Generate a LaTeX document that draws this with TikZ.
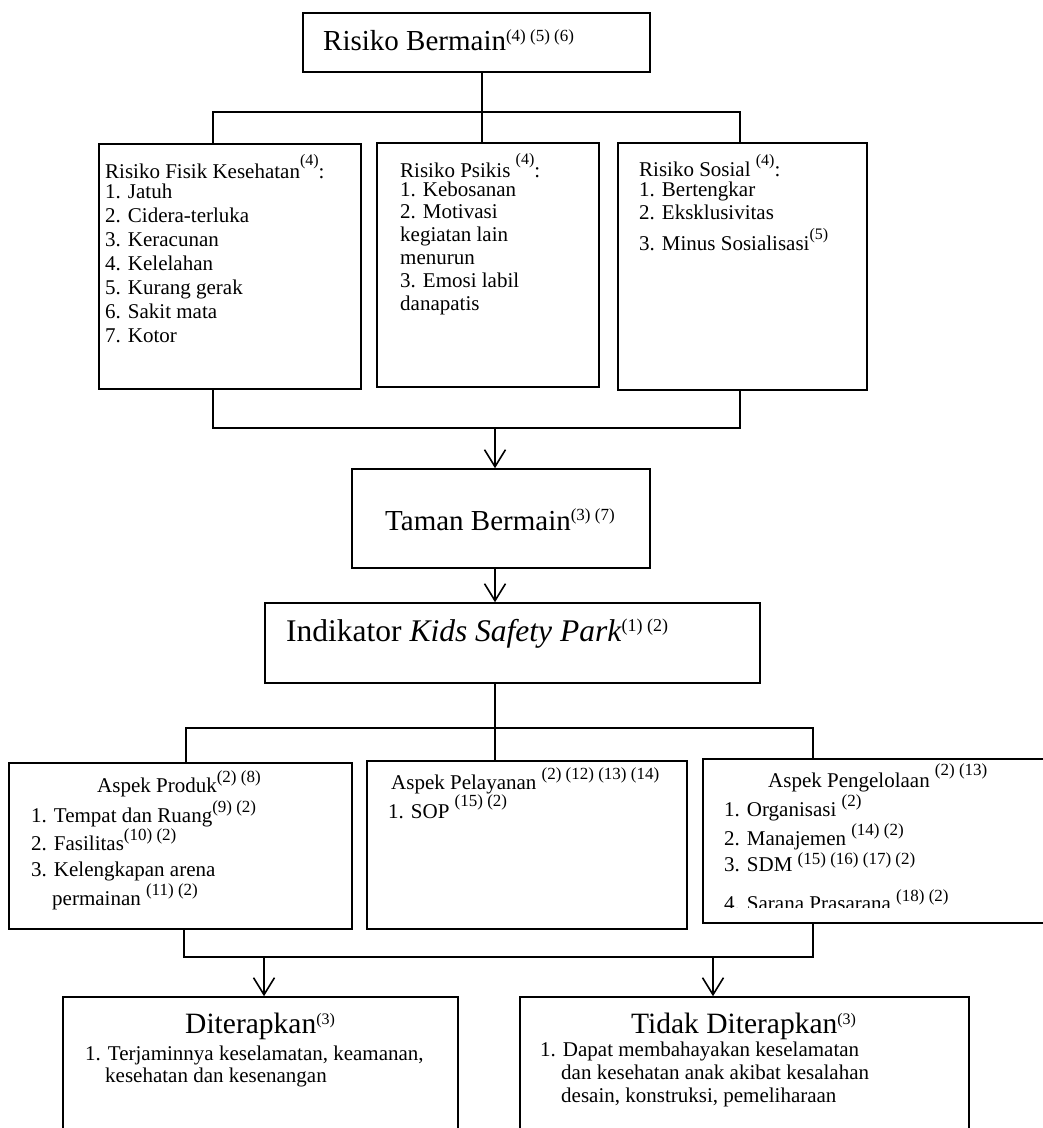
\documentclass[tikz,border=0pt]{standalone}
\usepackage{fontspec}
\setmainfont{Liberation Serif}
\usetikzlibrary{arrows.meta}
\newcommand{\supr}[3]{\raisebox{#1pt}{\fontsize{#2pt}{#2pt}\selectfont #3}}
\newcommand{\fs}[1]{\fontsize{#1pt}{#1pt}\selectfont}
\begin{document}
\begin{tikzpicture}[x=1pt,y=-1pt,
  box/.style={draw, line width=1.6pt, inner sep=0pt},
  conn/.style={line width=1.6pt},
  arr/.style={line width=1.6pt, -{Straight Barb[length=17pt,width=21pt]}},
  lbl/.style={inner sep=0pt, anchor=base west}]
\clip (0,0) rectangle (1043,1128);

% boxes
\node[box, minimum width=347pt, minimum height=59pt] (rb) at (476.5,42.5) {};
\node[box, minimum width=262pt, minimum height=245pt] (fisik) at (230,266.5) {};
\node[box, minimum width=222pt, minimum height=244pt] (psikis) at (488,265) {};
\node[box, minimum width=249pt, minimum height=247pt] (sosial) at (742.5,266.5) {};
\node[box, minimum width=298pt, minimum height=99pt] (taman) at (501,518.5) {};
\node[box, minimum width=495pt, minimum height=80pt] (ind) at (512.5,643) {};
\node[box, minimum width=343pt, minimum height=166pt] (produk) at (180.5,846) {};
\node[box, minimum width=320pt, minimum height=168pt] (pelayanan) at (527,845) {};
\node[box, minimum width=343pt, minimum height=164pt] (kelola) at (874.5,841) {};
\node[box, minimum width=395pt, minimum height=138pt] (diter) at (260.5,1066) {};
\node[box, minimum width=449pt, minimum height=138pt] (tidak) at (744.5,1066) {};

% connectors
\coordinate (j1) at (482,112);
\coordinate (j1l) at (213,112);
\coordinate (j1r) at (740,112);
\draw[conn] (rb.south -| j1) -- (j1);
\draw[conn] (fisik.north -| j1l) -- (j1l) -- (j1r) -- (sosial.north -| j1r);
\draw[conn] (j1) -- (psikis.north -| j1);
\coordinate (j2) at (495,428);
\coordinate (j2l) at (213,428);
\coordinate (j2r) at (740,428);
\draw[conn] (fisik.south -| j2l) -- (j2l) -- (j2r) -- (sosial.south -| j2r);
\draw[arr] (j2) -- (taman.north -| j2);
\draw[arr] (taman.south -| j2) -- (ind.north -| j2);
\coordinate (j3) at (495,728);
\coordinate (j3l) at (186,728);
\coordinate (j3r) at (813,728);
\draw[conn] (ind.south -| j3) -- (pelayanan.north -| j3);
\draw[conn] (produk.north -| j3l) -- (j3l) -- (j3r) -- (kelola.north -| j3r);
\coordinate (j4l) at (184,957);
\coordinate (j4r) at (813,957);
\draw[conn] (produk.south -| j4l) -- (j4l) -- (j4r) -- (kelola.south -| j4r);
\coordinate (a1) at (264,957);
\coordinate (a2) at (713,957);
\draw[arr] (a1) -- (diter.north -| a1);
\draw[arr] (a2) -- (tidak.north -| a2);

% texts
\node[lbl] (trb) at (323,50) {\fs{29}Risiko Bermain\supr{9}{17}{(4) (5) (6)}};

\node[lbl] (tf0) at (105,178) {\fs{21}Risiko Fisik Kesehatan\supr{13}{16}{(4)}:};
\node[lbl] (tf1) at (105,198) {\fs{21}1. Jatuh};
\node[lbl] (tf2) at (105,222) {\fs{21}2. Cidera-terluka};
\node[lbl] (tf3) at (105,246) {\fs{21}3. Keracunan};
\node[lbl] (tf4) at (105,270) {\fs{21}4. Kelelahan};
\node[lbl] (tf5) at (105,294) {\fs{21}5. Kurang gerak};
\node[lbl] (tf6) at (105,318) {\fs{21}6. Sakit mata};
\node[lbl] (tf7) at (105,342) {\fs{21}7. Kotor};

\node[lbl] (tp0) at (400,177) {\fs{21}Risiko Psikis \supr{13}{16}{(4)}:};
\node[lbl] (tp1) at (400,196) {\fs{21}1. Kebosanan};
\node[lbl] (tp2) at (400,218.8) {\fs{21}2. Motivasi};
\node[lbl] (tp3) at (400,241.6) {\fs{21}kegiatan lain};
\node[lbl] (tp4) at (400,264.4) {\fs{21}menurun};
\node[lbl] (tp5) at (400,287.2) {\fs{21}3. Emosi labil};
\node[lbl] (tp6) at (400,310) {\fs{21}danapatis};

\node[lbl] (ts0) at (639,176) {\fs{21}Risiko Sosial \supr{11}{16}{(4)}:};
\node[lbl] (ts1) at (639,196) {\fs{21}1. Bertengkar};
\node[lbl] (ts2) at (639,219) {\fs{21}2. Eksklusivitas};
\node[lbl] (ts3) at (639,250) {\fs{21}3. Minus Sosialisasi\supr{11}{16}{(5)}};

\node[lbl] (tt) at (385,530) {\fs{29}Taman Bermain\supr{10}{17}{(3) (7)}};
\node[lbl] (ti) at (286,641) {\fs{31.5}Indikator \textit{Kids Safety Park}\supr{10}{18}{(1) (2)}};

\node[lbl] (tpr0) at (97,792) {\fs{21}Aspek Produk\supr{10}{17}{(2) (8)}};
\node[lbl] (tpr1) at (31,822) {\fs{21}1. Tempat dan Ruang\supr{10}{17}{(9) (2)}};
\node[lbl] (tpr2) at (31,850) {\fs{21}2. Fasilitas\supr{10}{17}{(10) (2)}};
\node[lbl] (tpr3) at (31,876) {\fs{21}3. Kelengkapan arena};
\node[lbl] (tpr4) at (52,905) {\fs{21}permainan \supr{10}{17}{(11) (2)}};

\node[lbl] (tpl0) at (391,789) {\fs{21}Aspek Pelayanan \supr{10}{17}{(2) (12) (13) (14)}};
\node[lbl] (tpl1) at (388,818) {\fs{21}1. SOP \supr{12}{17}{(15) (2)}};

\node[lbl] (tk0) at (768,787) {\fs{21}Aspek Pengelolaan \supr{12}{17}{(2) (13)}};
\node[lbl] (tk1) at (724,816) {\fs{21}1. Organisasi \supr{10}{17}{(2)}};
\node[lbl] (tk2) at (724,845) {\fs{21}2. Manajemen \supr{10}{17}{(14) (2)}};
\node[lbl] (tk3) at (724,871) {\fs{21}3. SDM \supr{7}{17}{(15) (16) (17) (2)}};
\begin{scope}
\clip (703,759) rectangle (1043,907);
\node[lbl] (tk4) at (724,910) {\fs{21}4. Sarana Prasarana \supr{9}{17}{(18) (2)}};
\end{scope}

\node[lbl] (td0) at (185,1033) {\fs{29.5}Diterapkan\supr{9}{16}{(3)}};
\node[lbl] (td1) at (85,1060) {\fs{21}1. Terjaminnya keselamatan, keamanan,};
\node[lbl] (td2) at (105,1082) {\fs{21}kesehatan dan kesenangan};

\node[lbl] (tn0) at (631,1033) {\fs{29.5}Tidak Diterapkan\supr{9}{16}{(3)}};
\node[lbl] (tn1) at (540,1056) {\fs{21}1. Dapat membahayakan keselamatan};
\node[lbl] (tn2) at (561,1079) {\fs{21}dan kesehatan anak akibat kesalahan};
\node[lbl] (tn3) at (561,1102) {\fs{21}desain, konstruksi, pemeliharaan};
\end{tikzpicture}
\end{document}
